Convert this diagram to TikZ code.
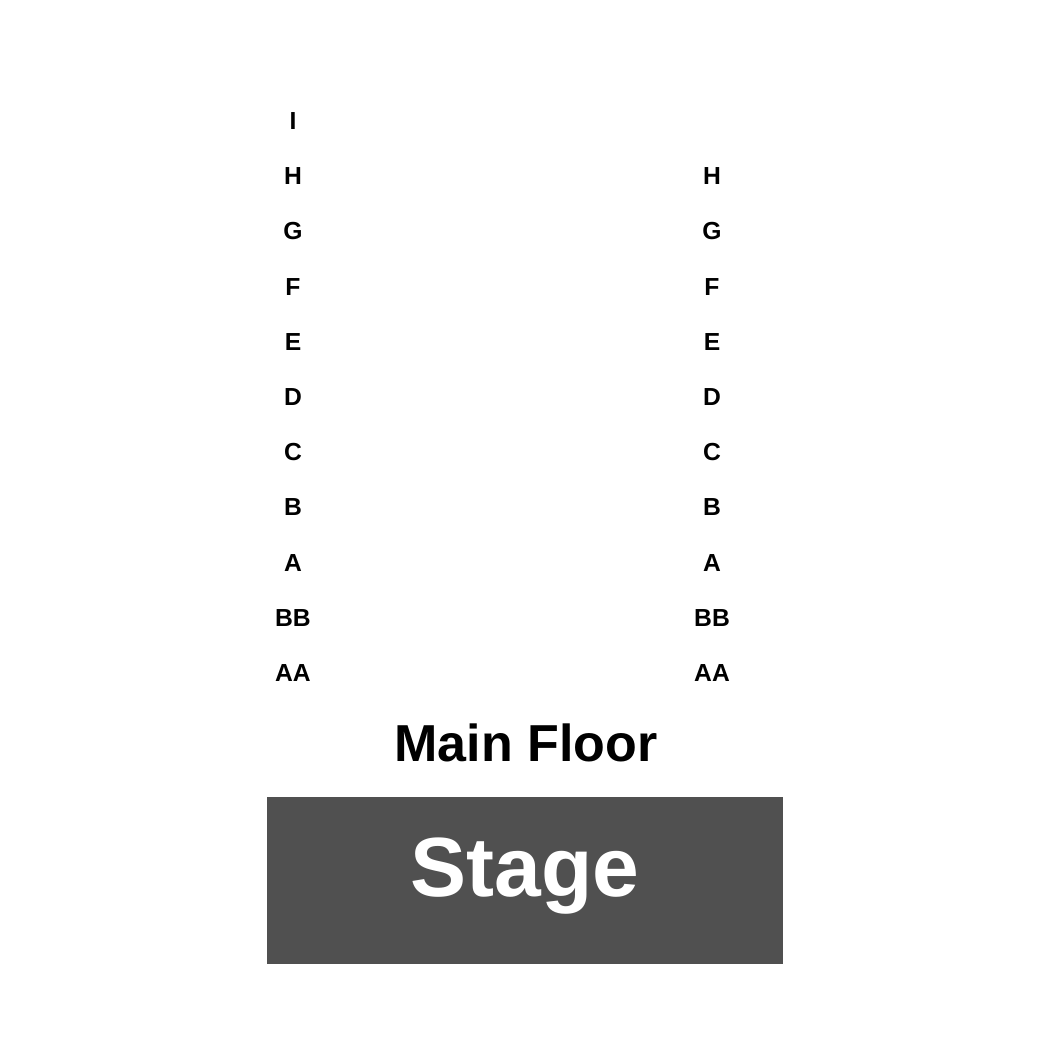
\documentclass[tikz,border=0pt]{standalone}
\usepackage{fontspec}
\setmainfont{Liberation Sans}
\definecolor{stagegray}{HTML}{505050}
\tikzset{
  rowlabel/.style={font=\bfseries\fontsize{18.5}{20}\selectfont, inner sep=0pt},
  floorlabel/.style={font=\bfseries\fontsize{39}{42}\selectfont, inner sep=0pt},
  stagebox/.style={fill=stagegray, draw=none}
}
\begin{document}
\begin{tikzpicture}[x=0.75pt,y=-0.75pt]
		% Define area
		\useasboundingbox (0,0) rectangle (1050,1050);
		
		% Row labels
		\foreach \r/\y in {I/121,H/176,G/231,F/287,E/342,D/397,C/452,B/507,A/563,BB/618,AA/673}
		  \node[rowlabel] (left\r) at (293,\y) {\r};
		\foreach \r/\y in {H/176,G/231,F/287,E/342,D/397,C/452,B/507,A/563,BB/618,AA/673}
		  \node[rowlabel] (right\r) at (712,\y) {\r};
		
		% Floor label
		\node[floorlabel] (floor) at (526,743) {Main Floor};
		
		% Draw stage
		\fill[stagebox] (267,797) rectangle (783,964);
		\node[font=\bfseries\fontsize{63}{66}\selectfont, text=white, inner sep=0pt] (stage) at (525,876) {Stage};
	\end{tikzpicture}
\end{document}
